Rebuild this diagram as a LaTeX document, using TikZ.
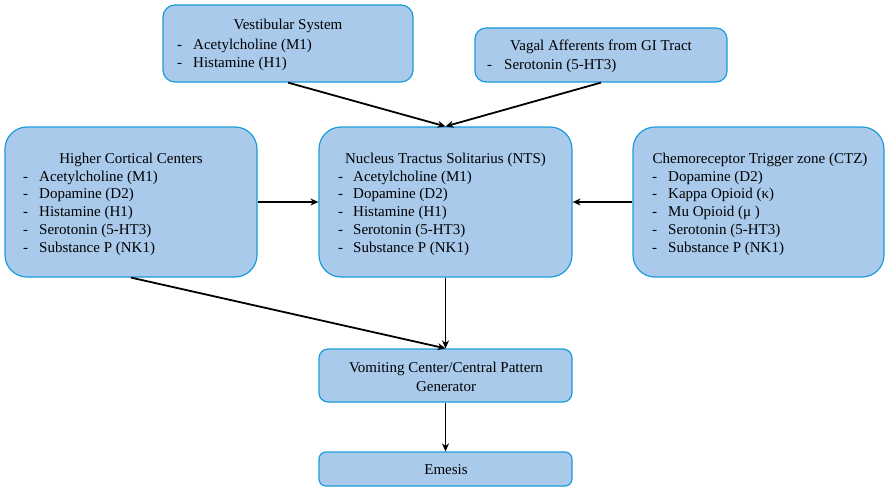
\documentclass[tikz,border=0pt]{standalone}
\usepackage{fontspec}
\setmainfont{Liberation Serif}
\usetikzlibrary{arrows.meta}
\definecolor{boxfill}{HTML}{A9CAEB}
\definecolor{boxline}{HTML}{1E9BDC}
\begin{document}
\begin{tikzpicture}[x=1pt,y=-1pt,
  box/.style={draw=boxline, fill=boxfill, line width=1.2pt, inner sep=0pt, rectangle},
  txt/.style={inner sep=0pt, font=\fontsize{15}{18}\selectfont, anchor=base},
  item/.style={inner sep=0pt, font=\fontsize{15}{18}\selectfont, anchor=base west},
  conn/.style={line width=1.8pt, -{Stealth[length=8pt,width=7pt]}}]
\useasboundingbox (0,0) rectangle (885,487);
% boxes
\node[box, minimum width=250pt, minimum height=77pt, rounded corners=12pt] (vest) at (288,43.5) {};
\node[box, minimum width=252pt, minimum height=54pt, rounded corners=11pt] (vag) at (601,55) {};
\node[box, minimum width=252pt, minimum height=150pt, rounded corners=22pt] (hc) at (131,202) {};
\node[box, minimum width=253pt, minimum height=150pt, rounded corners=22pt] (nts) at (445.5,202) {};
\node[box, minimum width=251pt, minimum height=150pt, rounded corners=22pt] (ctz) at (758.5,202) {};
\node[box, minimum width=253pt, minimum height=53pt, rounded corners=9pt] (vom) at (445.5,375.5) {};
\node[box, minimum width=253pt, minimum height=34pt, rounded corners=7pt] (em) at (445.5,469) {};
% titles
\node[txt] (vestT) at (288,30) {Vestibular System};
\node[txt] (vagT) at (601,51) {Vagal Afferents from GI Tract};
\node[txt] (hcT) at (131,163) {Higher Cortical Centers};
\node[txt] (ntsT) at (445.5,163) {Nucleus Tractus Solitarius (NTS)};
\node[txt] (ctzT) at (760,163) {Chemoreceptor Trigger zone (CTZ)};
\node[txt] (vomT) at (446,372) {Vomiting Center/Central Pattern};
\node[txt] (vomT2) at (446,391) {Generator};
\node[txt] (emT) at (446,474) {Emesis};
% lists
\foreach \t [count=\i] in {Acetylcholine (M1), Histamine (H1)}
  \node[item] (vest\i) at (177,{49+(\i-1)*18}) {\makebox[16pt][l]{-}\t};
\node[item] (vag1) at (487,69) {\makebox[17pt][l]{-}Serotonin (5-HT3)};
\foreach \t [count=\i] in {Acetylcholine (M1), Dopamine (D2), Histamine (H1), Serotonin (5-HT3), Substance P (NK1)}
  \node[item] (hc\i) at (23,{181+(\i-1)*17.8}) {\makebox[16pt][l]{-}\t};
\foreach \t [count=\i] in {Acetylcholine (M1), Dopamine (D2), Histamine (H1), Serotonin (5-HT3), Substance P (NK1)}
  \node[item] (nts\i) at (338,{181+(\i-1)*17.8}) {\makebox[15pt][l]{-}\t};
\foreach \t [count=\i] in {Dopamine (D2), Kappa Opioid (κ), Mu Opioid (μ ), Serotonin (5-HT3), Substance P (NK1)}
  \node[item] (ctz\i) at (652,{181+(\i-1)*17.8}) {\makebox[16pt][l]{-}\t};
% connectors
\draw[conn] (vest.south) -- (nts.north);
\draw[conn] (vag.south) -- (nts.north);
\draw[conn] (hc.east) -- (nts.west);
\draw[conn] (ctz.west) -- (nts.east);
\draw[conn] (hc.south) -- (vom.north);
\draw[conn] (nts.south) -- (vom.north);
\draw[conn] (vom.south) -- (em.north);
\end{tikzpicture}
\end{document}
